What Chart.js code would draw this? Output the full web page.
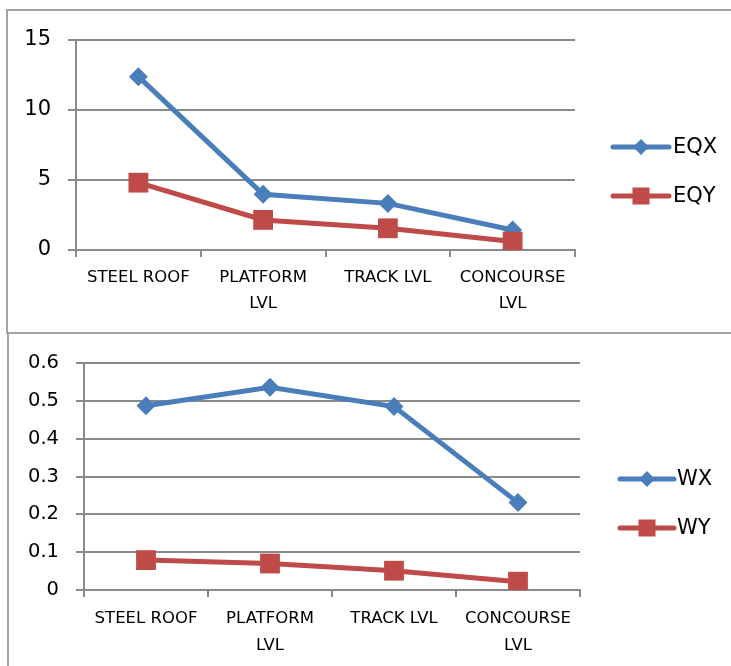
<!DOCTYPE html>
<html lang="en">
<head>
<meta charset="UTF-8">
<title>Storey displacement</title>
<script src="https://cdn.jsdelivr.net/npm/chart.js"></script>
<style>
  body { margin: 0; background: #fff; width: 731px; height: 666px; overflow: hidden; position: relative; }
  .box { position: absolute; border: 2px solid #a3a3a3; }
  #box1 { left: 6px; top: 9px; width: 760px; height: 321px; }
  #box2 { left: 7px; top: 332px; width: 760px; height: 360px; border-top: none; }
  canvas { position: absolute; left: 0; }
</style>
</head>
<body>
<div class="box" id="box1"></div>
<div class="box" id="box2"></div>
<canvas id="eq-chart" width="731" height="333" style="top:0"></canvas>
<canvas id="wind-chart" width="731" height="333" style="top:333px"></canvas>

<script>
// level names on the x axis
const levels = [['STEEL ROOF'], ['PLATFORM', 'LVL'], ['TRACK LVL'], ['CONCOURSE', 'LVL']];

// earthquake case
const eqx = [12.38, 3.98, 3.33, 1.43];
const eqy = [4.81, 2.15, 1.55, 0.6];

// wind case
const wx = [0.487, 0.536, 0.485, 0.231];
const wy = [0.079, 0.07, 0.051, 0.022];

const BLUE = '#4a7ebb';
const RED = '#be4b48';
const GRID = '#8a8a8a';
const FONT = 'DejaVu Sans';

// legend drawn as line + marker like the office charts
const lineLegend = {
  id: 'lineLegend',
  afterDraw(chart, args, opts) {
    const ctx = chart.ctx;
    chart.data.datasets.forEach((ds, i) => {
      const y = opts.y[i];
      const cx = (opts.x1 + opts.x2) / 2;
      ctx.save();
      ctx.strokeStyle = ds.borderColor;
      ctx.lineWidth = 5;
      ctx.lineCap = 'round';
      ctx.beginPath();
      ctx.moveTo(opts.x1, y);
      ctx.lineTo(opts.x2, y);
      ctx.stroke();
      ctx.fillStyle = ds.borderColor;
      ctx.beginPath();
      if (ds.pointStyle === 'rectRot') {
        const r = 8;
        ctx.moveTo(cx, y - r); ctx.lineTo(cx + r, y); ctx.lineTo(cx, y + r); ctx.lineTo(cx - r, y);
        ctx.closePath();
      } else {
        const s = 8.5;
        ctx.rect(cx - s, y - s, 2 * s, 2 * s);
      }
      ctx.fill();
      ctx.fillStyle = '#000';
      ctx.font = '21px "' + FONT + '"';
      ctx.textBaseline = 'middle';
      ctx.fillText(ds.label, opts.tx, y + 1);
      ctx.restore();
    });
  }
};

function series(label, data, color, style, order) {
  return {
    label: label,
    data: data,
    borderColor: color,
    backgroundColor: color,
    borderWidth: 5,
    pointStyle: style,
    pointRadius: style === 'rectRot' ? 9.5 : 14,
    pointBorderWidth: 0,
    pointBackgroundColor: color,
    tension: 0,
    order: order
  };
}

function makeChart(id, xData, yData, names, yMax, yStep, area, yFont, legend) {
  new Chart(document.getElementById(id), {
    type: 'line',
    data: {
      labels: levels,
      datasets: [
        series(names[0], xData, BLUE, 'rectRot', 1),
        series(names[1], yData, RED, 'rect', 0)
      ]
    },
    plugins: [lineLegend],
    options: {
      responsive: false,
      animation: false,
      events: [],
      layout: { padding: { left: 0, top: area.top, right: 731 - area.right, bottom: 0 } },
      plugins: {
        legend: { display: false },
        tooltip: { enabled: false },
        lineLegend: legend
      },
      scales: {
        x: {
          offset: true,
          grid: { offset: true, drawOnChartArea: false, drawTicks: true, tickLength: 7, color: GRID, lineWidth: 2 },
          border: { display: true, color: GRID, width: 2 },
          ticks: { color: '#000', padding: area.xPad, maxRotation: 0, autoSkip: false,
                   font: { family: FONT, size: 16.5, lineHeight: area.lh } },
          afterFit: s => { s.height = 333 - area.bottom; }
        },
        y: {
          min: 0,
          max: yMax,
          grid: { color: GRID, lineWidth: 2, tickLength: 8 },
          border: { display: true, color: GRID, width: 2 },
          ticks: { stepSize: yStep, color: '#000', padding: 17, font: { family: FONT, size: yFont } },
          afterFit: s => { s.width = area.left; }
        }
      }
    }
  });
}

makeChart('eq-chart', eqx, eqy, ['EQX', 'EQY'], 15, 5,
  { left: 76, right: 575, top: 40, bottom: 250, xPad: 8, lh: 1.58 }, 21,
  { x1: 613, x2: 669, tx: 673, y: [147, 196] });

makeChart('wind-chart', wx, wy, ['WX', 'WY'], 0.6, 0.1,
  { left: 84, right: 580, top: 30, bottom: 257, xPad: 8.5, lh: 1.64 }, 19.5,
  { x1: 620, x2: 674, tx: 677, y: [146, 195] });
</script>
</body>
</html>
